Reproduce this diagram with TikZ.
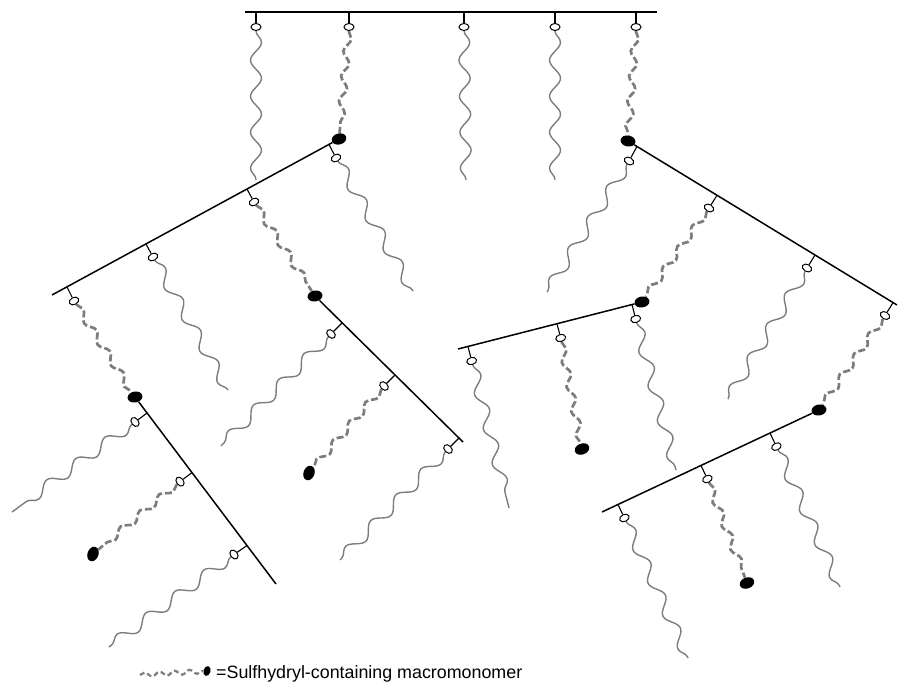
\documentclass[tikz,border=0pt]{standalone}
\usepackage{fontspec}
\newfontfamily\lsans{Liberation Sans}
\usetikzlibrary{shapes.geometric,decorations.pathmorphing}
\pgfdeclarelayer{bg}
\pgfsetlayers{bg,main}
\definecolor{chaingray}{RGB}{125,125,125}
\definecolor{dashgray}{RGB}{125,125,125}
\begin{document}
\begin{tikzpicture}[x=1pt,y=-1pt,
  backbone/.style={line width=1.5pt, black},
  stem/.style={line width=1.1pt, black},
  openend/.style={ellipse, draw=black, fill=white, line width=1pt, minimum width=10pt, minimum height=7pt, inner sep=0pt},
  shend/.style={ellipse, fill=black, minimum width=15pt, minimum height=11pt, inner sep=0pt},
  chain/.style={chaingray, line width=1.4pt, decorate, decoration={snake, amplitude=5.5pt, segment length=36pt}},
  dchain/.style={dashgray, line width=2.7pt, dash pattern=on 7pt off 3pt, decorate, decoration={snake, amplitude=3.5pt, segment length=25pt}},
]
\useasboundingbox (0,0) rectangle (901,684);

% ---------- top backbone ----------
\coordinate (T0) at (245,12); \coordinate (T1) at (657,12);
\draw[backbone] (T0) -- (T1);
\coordinate (ta) at (256,12); \node[openend] (oa) at (256,27) {}; \coordinate (ea) at (256,180);
\coordinate (tb) at (349,12); \node[openend] (ob) at (349,27) {};
\coordinate (tc) at (464,12); \node[openend] (oc) at (464,27) {}; \coordinate (ec) at (466,180);
\coordinate (td) at (555,12); \node[openend] (od) at (555,27) {}; \coordinate (ed) at (555,180);
\coordinate (te) at (636,12); \node[openend] (oe) at (636,27) {};
\node[shend, rotate=15] (A) at (339,139) {};
\node[shend, rotate=-10] (B) at (628,141) {};
\foreach \t/\o in {ta/oa,tb/ob,tc/oc,td/od,te/oe} \draw[stem] (\t) -- (\o);

% ---------- L1 ----------
\coordinate (L1b) at (52,295);
\draw[backbone] (A) -- (L1b);
\coordinate (l1a) at (329,144.5); \node[openend, rotate=28] (p1a) at (336,158) {}; \coordinate (f1a) at (413,291);
\coordinate (l1b) at (247,189);   \node[openend, rotate=28] (p1b) at (254,202) {};
\coordinate (l1c) at (146,244);   \node[openend, rotate=28] (p1c) at (153,257) {}; \coordinate (f1c) at (228,390);
\coordinate (l1d) at (67,287);    \node[openend, rotate=28] (p1d) at (74,301) {};
\node[shend, rotate=10] (C) at (315,296) {};
\node[shend, rotate=10] (D) at (135,397) {};
\foreach \t/\o in {l1a/p1a,l1b/p1b,l1c/p1c,l1d/p1d} \draw[stem] (\t) -- (\o);

% ---------- L2 ----------
\coordinate (L2b) at (463,442);
\draw[backbone] (C) -- (L2b);
\coordinate (l2a) at (342,323); \node[openend, rotate=-45] (p2a) at (331,334) {}; \coordinate (f2a) at (221,446);
\coordinate (l2b) at (395,375); \node[openend, rotate=-45] (p2b) at (384,386) {};
\coordinate (l2c) at (459,438); \node[openend, rotate=-45] (p2c) at (448,449) {}; \coordinate (f2c) at (340,560);
\node[shend, rotate=70] (E) at (309,473) {};
\foreach \t/\o in {l2a/p2a,l2b/p2b,l2c/p2c} \draw[stem] (\t) -- (\o);

% ---------- L3 ----------
\coordinate (L3b) at (276,584);
\draw[backbone] (D) -- (L3b);
\coordinate (l3a) at (147,413); \node[openend, rotate=-53] (p3a) at (135,422) {}; \coordinate (f3a) at (12,512);
\coordinate (l3b) at (192,472.6); \node[openend, rotate=-53] (p3b) at (180,481.6) {};
\coordinate (l3c) at (247,545.5); \node[openend, rotate=-53] (p3c) at (234,554.5) {}; \coordinate (f3c) at (109,647);
\node[shend, rotate=70] (F) at (93,554) {};
\foreach \t/\o in {l3a/p3a,l3b/p3b,l3c/p3c} \draw[stem] (\t) -- (\o);

% ---------- R1 ----------
\coordinate (R1b) at (897,305);
\draw[backbone] (B) -- (R1b);
\coordinate (r1a) at (637,146.5); \node[openend, rotate=-31] (q1a) at (629,161) {}; \coordinate (g1a) at (547,292);
\coordinate (r1b) at (717,195.3); \node[openend, rotate=-31] (q1b) at (709,208) {};
\coordinate (r1c) at (815,255);   \node[openend, rotate=-31] (q1c) at (807,268) {}; \coordinate (g1c) at (728,399);
\coordinate (r1d) at (893,302.7); \node[openend, rotate=-31] (q1d) at (885,315.5) {};
\node[shend, rotate=10] (G) at (642,302) {};
\node[shend, rotate=10] (H) at (819,410) {};
\foreach \t/\o in {r1a/q1a,r1b/q1b,r1c/q1c,r1d/q1d} \draw[stem] (\t) -- (\o);

% ---------- R2 ----------
\coordinate (R2b) at (458,349);
\draw[backbone] (G) -- (R2b);
\coordinate (r2a) at (632,304.6); \node[openend, rotate=14] (q2a) at (635.7,319) {}; \coordinate (g2a) at (676,470);
\coordinate (r2b) at (557,323.7); \node[openend, rotate=14] (q2b) at (560.7,338) {};
\coordinate (r2c) at (468,346.4); \node[openend, rotate=14] (q2c) at (471.7,361) {}; \coordinate (g2c) at (509,508);
\node[shend, rotate=20] (I) at (582,449) {};
\foreach \t/\o in {r2a/q2a,r2b/q2b,r2c/q2c} \draw[stem] (\t) -- (\o);

% ---------- R3 ----------
\coordinate (R3b) at (602,512);
\draw[backbone] (H) -- (R3b);
\coordinate (r3a) at (770,433);   \node[openend, rotate=25] (q3a) at (776.4,446.6) {}; \coordinate (g3a) at (840,587);
\coordinate (r3b) at (701,465.5); \node[openend, rotate=25] (q3b) at (707.4,479) {};
\coordinate (r3c) at (618,504.5); \node[openend, rotate=25] (q3c) at (624.4,518) {}; \coordinate (g3c) at (688,658);
\node[shend, rotate=20] (J) at (747,583) {};
\foreach \t/\o in {r3a/q3a,r3b/q3b,r3c/q3c} \draw[stem] (\t) -- (\o);

% ---------- legend ----------
\coordinate (lg0) at (140,675);
\node[ellipse, fill=black, minimum width=7pt, minimum height=10pt, inner sep=0pt, rotate=-15] (lgS) at (207,671) {};
\node[anchor=base west, inner sep=0pt, font=\lsans\fontsize{17.85}{20}\selectfont] (legend) at (216,678) {=Sulfhydryl-containing macromonomer};

% ---------- chains (behind) ----------
\begin{pgfonlayer}{bg}
  \draw[chain] (oa) -- (ea);
  \draw[chain] (oc) -- (ec);
  \draw[chain] (od) -- (ed);
  \draw[dchain] (ob) -- (A);
  \draw[dchain] (oe) -- (B);
  \draw[chain] (p1a) -- (f1a);
  \draw[dchain] (p1b) -- (C);
  \draw[chain] (p1c) -- (f1c);
  \draw[dchain] (p1d) -- (D);
  \draw[chain] (p2a) -- (f2a);
  \draw[dchain] (p2b) -- (E);
  \draw[chain] (p2c) -- (f2c);
  \draw[chain] (p3a) -- (f3a);
  \draw[dchain] (p3b) -- (F);
  \draw[chain] (p3c) -- (f3c);
  \draw[chain] (q1a) -- (g1a);
  \draw[dchain] (q1b) -- (G);
  \draw[chain] (q1c) -- (g1c);
  \draw[dchain] (q1d) -- (H);
  \draw[chain] (q2a) -- (g2a);
  \draw[dchain] (q2b) -- (I);
  \draw[chain] (q2c) -- (g2c);
  \draw[chain] (q3a) -- (g3a);
  \draw[dchain] (q3b) -- (J);
  \draw[chain] (q3c) -- (g3c);
  \draw[dashgray, line width=2.2pt, dash pattern=on 5pt off 3pt, decorate, decoration={snake, amplitude=2.2pt, segment length=15pt}] (lg0) -- (lgS);
\end{pgfonlayer}
\end{tikzpicture}
\end{document}
